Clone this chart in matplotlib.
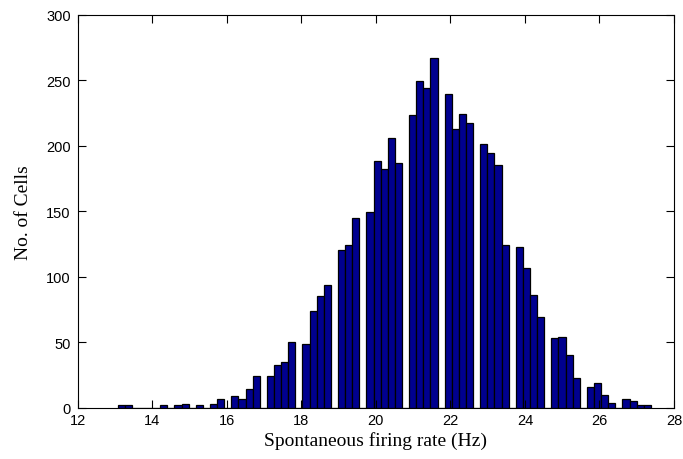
import numpy as np
import matplotlib.pyplot as plt

# histogram of spontaneous firing rates: cell counts per bin
counts = [2, 2, 0, 0, 0, 0, 2, 0, 2, 3,
          0, 2, 0, 3, 7, 0, 9, 7, 14, 24,
          0, 24, 33, 35, 50, 0, 49, 74, 85, 94,
          0, 120, 124, 145, 0, 149, 188, 182, 206, 187,
          0, 223, 249, 244, 267, 0, 239, 213, 224, 217,
          0, 201, 194, 185, 124, 0, 123, 107, 86, 69,
          0, 53, 54, 40, 23, 0, 16, 19, 10, 4,
          0, 7, 5, 2, 2]
rate_min = 13.07   # Hz, lower edge of first bin
rate_max = 27.38   # Hz, upper edge of last bin

xticks = [12, 14, 16, 18, 20, 22, 24, 26, 28]
yticks = [0, 50, 100, 150, 200, 250, 300]

edges = np.linspace(rate_min, rate_max, len(counts) + 1)
width = edges[1] - edges[0]

fig = plt.figure(figsize=(6.83, 4.6), dpi=100)
ax = fig.add_axes([0.1138, 0.1113, 0.873, 0.855])

ax.bar(edges[:-1], counts, width=width, align='edge',
       color='#00008f', edgecolor='black', linewidth=0.9)

ax.set_xlim(12, 28)
ax.set_ylim(0, 300)
ax.set_xticks(xticks)
ax.set_yticks(yticks)
ax.tick_params(direction='in', top=True, right=True, length=6, width=0.8,
               labelsize=10.5)
ax.tick_params(axis='x', pad=4)
ax.tick_params(axis='y', pad=5)
for lbl in ax.get_xticklabels() + ax.get_yticklabels():
    lbl.set_family('Liberation Sans')
for s in ax.spines.values():
    s.set_linewidth(0.8)

ax.set_xlabel('Spontaneous firing rate (Hz)', family='Liberation Serif',
              fontsize=14, labelpad=3)
ax.set_ylabel('No. of Cells', family='Liberation Serif', fontsize=14,
              labelpad=10)

fig.savefig('out.png', dpi=100)
